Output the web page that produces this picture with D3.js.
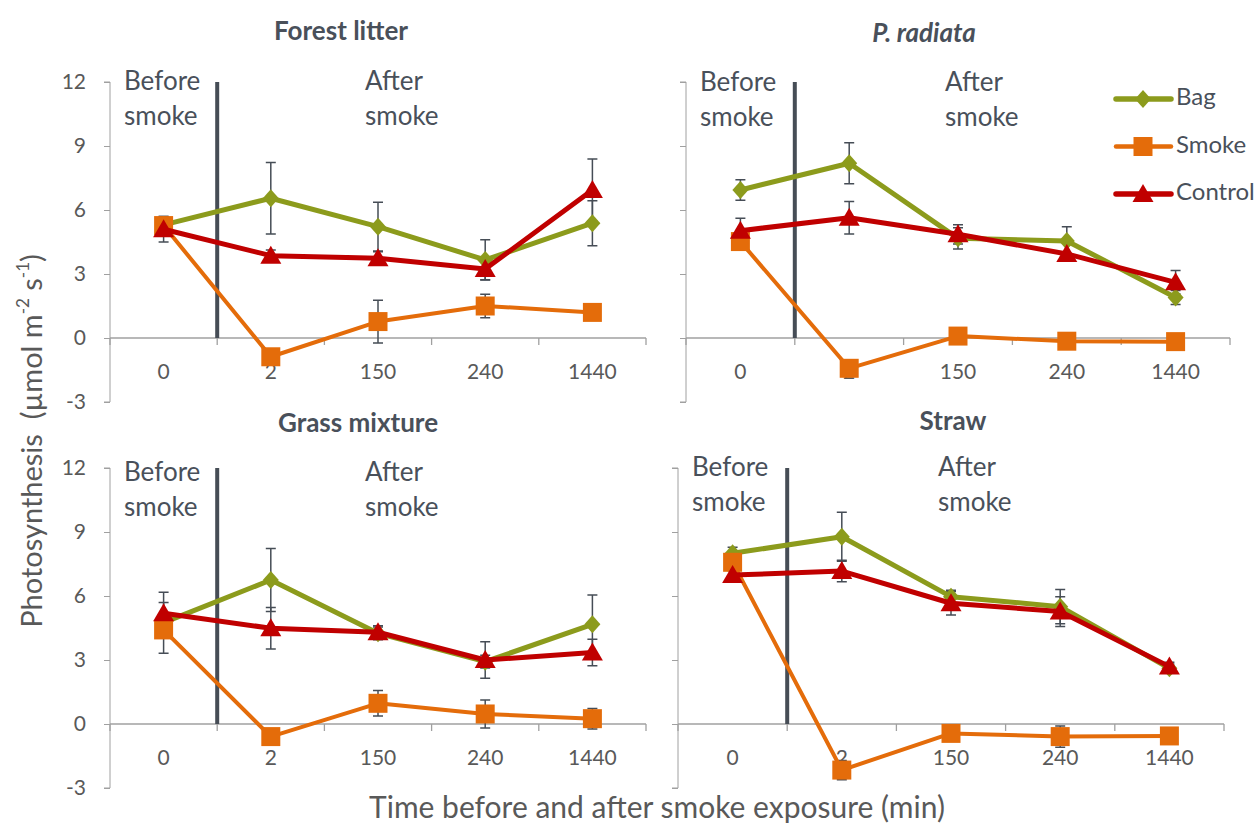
<!DOCTYPE html>
<html>
<head>
<meta charset="utf-8">
<script src="https://cdn.jsdelivr.net/npm/d3@7"></script>
<style>
  body { margin: 0; background: #fff; }
  svg text { font-family: Lato, "Liberation Sans", sans-serif; }
</style>
</head>
<body>
<div id="chart"></div>
<script>
var categories = ["0", "2", "150", "240", "1440"];
var seriesNames = ["Bag", "Smoke", "Control"];
var yTicks = [-3, 0, 3, 6, 9, 12];

// Forest litter
var forestBag = [5.3, 6.55, 5.22, 3.66, 5.38];
var forestBagErr = [0.4, 1.68, 1.14, 0.94, 1.05];
var forestSmoke = [5.27, -0.88, 0.77, 1.5, 1.2];
var forestSmokeErr = [0.3, 0.25, 1.0, 0.55, 0];
var forestControl = [5.1, 3.86, 3.74, 3.23, 6.94];
var forestControlErr = [0.6, 0.27, 0.3, 0.5, 1.45];

// P. radiata
var radiataBag = [6.94, 8.19, 4.67, 4.55, 1.9];
var radiataBagErr = [0.48, 0.96, 0.5, 0.67, 0.33];
var radiataSmoke = [4.52, -1.42, 0.09, -0.15, -0.17];
var radiataSmokeErr = [0, 0, 0, 0, 0];
var radiataControl = [5.03, 5.64, 4.86, 3.94, 2.61];
var radiataControlErr = [0.58, 0.76, 0.45, 0, 0.55];

// Grass mixture
var grassBag = [4.75, 6.75, 4.25, 2.92, 4.67];
var grassBagErr = [1.43, 1.48, 0.3, 0.3, 1.38];
var grassSmoke = [4.41, -0.59, 0.97, 0.47, 0.25];
var grassSmokeErr = [0, 0, 0.6, 0.66, 0.48];
var grassControl = [5.19, 4.49, 4.3, 3.0, 3.35];
var grassControlErr = [0.5, 0.97, 0.3, 0.86, 0.62];

// Straw
var strawBag = [8.0, 8.78, 5.97, 5.5, 2.61];
var strawBagErr = [0.28, 1.15, 0.3, 0.8, 0.2];
var strawSmoke = [7.58, -2.16, -0.44, -0.59, -0.56];
var strawSmokeErr = [0.2, 0.45, 0, 0.5, 0];
var strawControl = [6.98, 7.17, 5.66, 5.27, 2.69];
var strawControlErr = [0.2, 0.5, 0.55, 0.7, 0.2];

var colors = {Bag: "#8c9b1c", Smoke: "#e46c0a", Control: "#c00000"};
var lineWidths = {Bag: 5, Smoke: 4, Control: 5};
var textColor = "#49505a";
var axisColor = "#a0a0a0";

var panels = [
    {title: "Forest litter", italic: false, tx: 341, ty: 33, x0: 110, x1: 646, y0: 402, y1: 82, labels: true, textDy: 0,
     vals: [forestBag, forestSmoke, forestControl], errs: [forestBagErr, forestSmokeErr, forestControlErr]},
    {title: "P. radiata", italic: true, tx: 924, ty: 35, x0: 686, x1: 1230, y0: 402, y1: 82, labels: false, textDy: 1,
     vals: [radiataBag, radiataSmoke, radiataControl], errs: [radiataBagErr, radiataSmokeErr, radiataControlErr]},
    {title: "Grass mixture", italic: false, tx: 358, ty: 425, x0: 110, x1: 646, y0: 788, y1: 468, labels: true, textDy: 5,
     vals: [grassBag, grassSmoke, grassControl], errs: [grassBagErr, grassSmokeErr, grassControlErr]},
    {title: "Straw", italic: false, tx: 953, ty: 423, x0: 678, x1: 1224, y0: 788, y1: 468, labels: false, textDy: 0,
     vals: [strawBag, strawSmoke, strawControl], errs: [strawBagErr, strawSmokeErr, strawControlErr]}
];

var svg = d3.select("#chart").append("svg")
    .attr("width", 1256).attr("height", 827);

function markerPath(name) {
    if (name === "Bag") return "M0,-9L8,0L0,9L-8,0Z";
    if (name === "Smoke") return "M-9.5,-9.5H9.5V9.5H-9.5Z";
    return "M0,-10L10.5,8L-10.5,8Z";
}

panels.forEach(function(p) {
    var x = d3.scaleBand().domain(categories).range([p.x0, p.x1]).paddingInner(0).paddingOuter(0);
    var y = d3.scaleLinear().domain([-3, 12]).range([p.y0, p.y1]);
    var g = svg.append("g");

    // title
    g.append("text").attr("x", p.tx).attr("y", p.ty).attr("text-anchor", "middle")
        .attr("dominant-baseline", "middle").attr("font-size", 26).attr("font-weight", "bold")
        .attr("font-style", p.italic ? "italic" : "normal").attr("fill", textColor).text(p.title);

    // y axis
    var yAxis = d3.axisLeft(y).tickValues(yTicks).tickSize(6).tickPadding(18)
        .tickFormat(p.labels ? function(d) { return String(d); } : "");
    var ya = g.append("g").attr("transform", "translate(" + p.x0 + ",0)").call(yAxis);
    ya.select(".domain").attr("stroke", axisColor).attr("d", "M-6," + y(-3) + "H0V" + y(12) + "H-6");
    ya.selectAll(".tick line").attr("stroke", axisColor);
    ya.selectAll(".tick text").attr("font-size", 21).attr("fill", "#595959")
        .attr("font-family", "Lato, sans-serif");

    // x axis at zero
    var xa = g.append("g").attr("transform", "translate(0," + y(0) + ")");
    xa.append("line").attr("x1", p.x0).attr("x2", p.x1).attr("stroke", axisColor).attr("stroke-width", 1.3);
    var bounds = categories.map(function(c) { return x(c); }).concat([p.x1]);
    xa.selectAll("line.tk").data(bounds).enter().append("line").attr("class", "tk")
        .attr("x1", function(d) { return d; }).attr("x2", function(d) { return d; })
        .attr("y1", 0).attr("y2", 7).attr("stroke", axisColor).attr("stroke-width", 1.3);
    xa.selectAll("text").data(categories).enter().append("text")
        .attr("x", function(d) { return x(d) + x.bandwidth() / 2; }).attr("y", 36)
        .attr("text-anchor", "middle").attr("dominant-baseline", "middle")
        .attr("font-size", 21).attr("fill", "#595959").text(function(d) { return d; });

    // separator between before / after
    var sx = x(categories[1]);
    g.append("line").attr("x1", sx).attr("x2", sx).attr("y1", y(12)).attr("y2", y(0))
        .attr("stroke", "#464d56").attr("stroke-width", 4);

    // before / after labels
    var ty1 = y(12) + 1 + p.textDy, ty2 = ty1 + 35;
    [["Before", "smoke", p.x0 + 14], ["After", "smoke", x(categories[2]) + x.bandwidth() / 2 - 13]].forEach(function(t) {
        g.append("text").attr("x", t[2]).attr("y", ty1).attr("dominant-baseline", "middle")
            .attr("font-size", 26).attr("fill", textColor).text(t[0]);
        g.append("text").attr("x", t[2]).attr("y", ty2).attr("dominant-baseline", "middle")
            .attr("font-size", 26).attr("fill", textColor).text(t[1]);
    });

    var cx = function(i) { return x(categories[i]) + x.bandwidth() / 2; };

    // error bars
    seriesNames.forEach(function(name, si) {
        var vals = p.vals[si], errs = p.errs[si];
        var eg = g.append("g").attr("stroke", "#464d56").attr("stroke-width", 1.5).attr("fill", "none");
        vals.forEach(function(v, i) {
            var e = errs[i];
            if (!e) return;
            eg.append("path").attr("d",
                "M" + cx(i) + "," + y(v - e) + "V" + y(v + e) +
                "M" + (cx(i) - 5) + "," + y(v + e) + "h10" +
                "M" + (cx(i) - 5) + "," + y(v - e) + "h10");
        });
    });

    // lines and markers
    seriesNames.forEach(function(name, si) {
        var vals = p.vals[si];
        var line = d3.line().x(function(d, i) { return cx(i); }).y(function(d) { return y(d); });
        g.append("path").datum(vals).attr("d", line).attr("fill", "none")
            .attr("stroke", colors[name]).attr("stroke-width", lineWidths[name]).attr("stroke-linejoin", "round");
        g.selectAll(null).data(vals).enter().append("path")
            .attr("transform", function(d, i) { return "translate(" + cx(i) + "," + y(d) + ")"; })
            .attr("d", markerPath(name)).attr("fill", colors[name]);
    });
});

// legend
var legend = svg.append("g");
seriesNames.forEach(function(name, i) {
    var ly = 99 + i * 47.5;
    legend.append("line").attr("x1", 1116).attr("x2", 1171).attr("y1", ly).attr("y2", ly)
        .attr("stroke", colors[name]).attr("stroke-width", lineWidths[name] + 0.5).attr("stroke-linecap", "round");
    legend.append("path").attr("transform", "translate(1143," + ly + ")")
        .attr("d", markerPath(name)).attr("fill", colors[name]);
    legend.append("text").attr("x", 1176).attr("y", ly).attr("dominant-baseline", "middle")
        .attr("font-size", 24).attr("fill", textColor).text(name);
});

// axis titles
var yt = svg.append("text").attr("transform", "translate(35,441) rotate(-90)")
    .attr("text-anchor", "middle").attr("dominant-baseline", "middle")
    .attr("font-size", 29).attr("fill", "#595959").style("white-space", "pre");
yt.append("tspan").text("Photosynthesis  (µmol m");
yt.append("tspan").attr("font-size", 17).attr("dy", -10).text("-2");
yt.append("tspan").attr("dy", 10).text(" s");
yt.append("tspan").attr("font-size", 17).attr("dy", -10).text("-1");
yt.append("tspan").attr("dy", 10).text(")");

svg.append("text").attr("x", 657).attr("y", 810).attr("text-anchor", "middle")
    .attr("dominant-baseline", "middle").attr("font-size", 30).attr("fill", "#595959")
    .text("Time before and after smoke exposure (min)");
</script>
</body>
</html>
